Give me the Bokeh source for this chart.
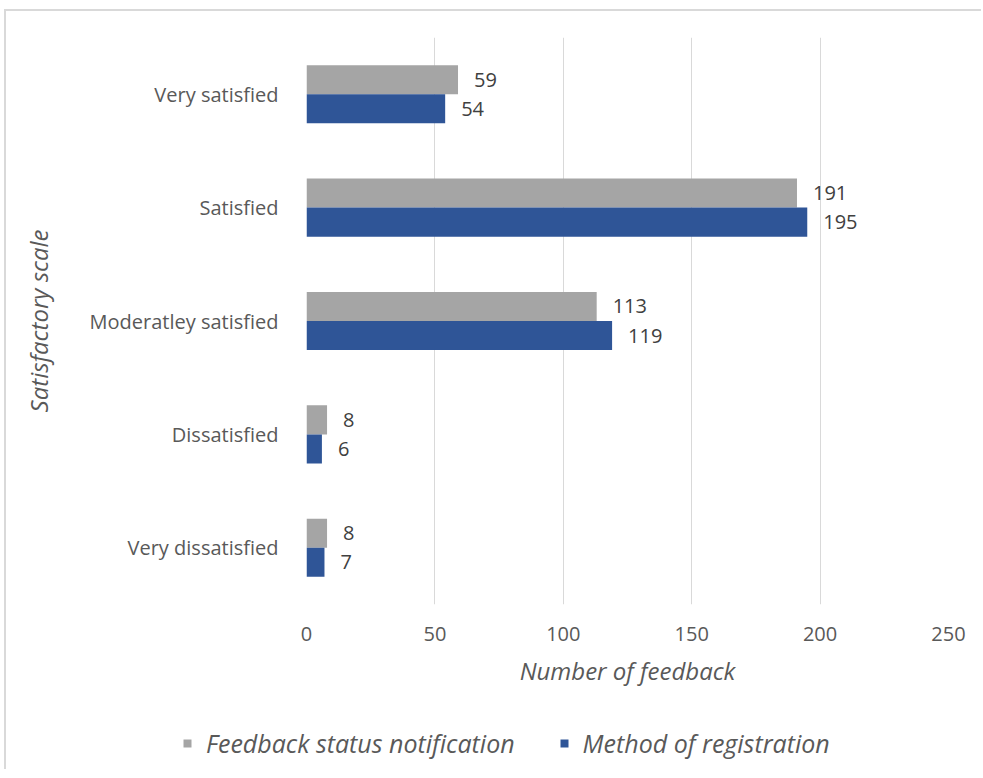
from bokeh.plotting import figure
from bokeh.layouts import column
from bokeh.models import FactorRange, ColumnDataSource, LabelSet, Legend, LegendItem, Range1d
from bokeh.transform import dodge
from bokeh.core.properties import value
from bokeh.embed import file_html
from bokeh.resources import INLINE

categories = ["Very satisfied", "Satisfied", "Moderatley satisfied", "Dissatisfied", "Very dissatisfied"]
feedback_status = [59, 191, 113, 8, 8]
method_registration = [54, 195, 119, 6, 7]
x_ticks = [0, 50, 100, 150, 200, 250]
series_names = ["Feedback status notification", "Method of registration"]

FONT = "Open Sans"
TXT = "#595959"
GRAY = "#a5a5a5"
BLUE = "#2f5597"

src = ColumnDataSource(dict(
    cat=categories,
    fs=feedback_status,
    mr=method_registration,
    fs_lbl=[str(v) for v in feedback_status],
    mr_lbl=[str(v) for v in method_registration],
))

p = figure(
    width=975, height=700,
    y_range=FactorRange(*list(reversed(categories))),
    x_range=Range1d(0, 250),
    output_backend="svg", toolbar_location=None,
    min_border_left=300, min_border_right=33, min_border_top=26, min_border_bottom=107,
)
p.outline_line_color = None
p.frame_align = False

r1 = p.hbar(y=dodge("cat", 0.128, range=p.y_range), right="fs", left=0, height=0.256,
            source=src, fill_color=GRAY, line_color=None)
r2 = p.hbar(y=dodge("cat", -0.128, range=p.y_range), right="mr", left=0, height=0.256,
            source=src, fill_color=BLUE, line_color=None)

l1 = LabelSet(x="fs", y=dodge("cat", 0.128, range=p.y_range), text="fs_lbl", source=src,
              x_offset=16, text_baseline="middle", text_font_size="20px",
              text_color="#404040", text_font=value(FONT))
l2 = LabelSet(x="mr", y=dodge("cat", -0.128, range=p.y_range), text="mr_lbl", source=src,
              x_offset=16, text_baseline="middle", text_font_size="20px",
              text_color="#404040", text_font=value(FONT))
p.add_layout(l1)
p.add_layout(l2)

p.xaxis.ticker = x_ticks
p.xgrid.ticker = x_ticks
p.xgrid.grid_line_color = "#d9d9d9"
p.ygrid.grid_line_color = None

for ax in (p.xaxis[0], p.yaxis[0]):
    ax.axis_line_color = None
    ax.major_tick_line_color = None
    ax.minor_tick_line_color = None
    ax.major_label_text_font = FONT
    ax.major_label_text_font_size = "20px"
    ax.major_label_text_color = TXT
    ax.axis_label_text_font = FONT
    ax.axis_label_text_font_size = "24px"
    ax.axis_label_text_color = TXT
    ax.axis_label_text_font_style = "italic"

p.xaxis.axis_label = "Number of feedback"
p.xaxis.major_label_standoff = 16
p.xaxis.axis_label_standoff = 10
p.yaxis.axis_label = "Satisfactory scale"
p.yaxis.major_label_standoff = 22
p.yaxis.axis_label_standoff = 32

# legend strip below the chart
p2 = figure(
    width=975, height=58,
    y_range=FactorRange(*list(reversed(categories))),
    x_range=Range1d(0, 250),
    x_axis_location=None, y_axis_location=None,
    output_backend="svg", toolbar_location=None,
    min_border_left=0, min_border_right=0, min_border_top=0, min_border_bottom=0,
)
p2.outline_line_color = None
p2.frame_align = False
p2.grid.visible = False
g1 = p2.hbar(y=dodge("cat", 0.128, range=p2.y_range), right="fs", left=0, height=0.256,
             source=src, fill_color=GRAY, line_color=None, visible=False)
g2 = p2.hbar(y=dodge("cat", -0.128, range=p2.y_range), right="mr", left=0, height=0.256,
             source=src, fill_color=BLUE, line_color=None, visible=False)

legend = Legend(items=[LegendItem(label=series_names[0], renderers=[g1]),
                       LegendItem(label=series_names[1], renderers=[g2])],
                orientation="horizontal", location=(176, 9),
                label_text_font=FONT, label_text_font_size="25px",
                label_text_font_style="italic", label_text_color=TXT,
                glyph_width=10, glyph_height=10, label_standoff=14, spacing=44,
                padding=0, margin=0, inactive_fill_alpha=0,
                border_line_color=None, background_fill_alpha=0)
p2.add_layout(legend)

layout = column(p, p2, spacing=0)
layout.styles = {"border-left": "2px solid #d9d9d9", "border-top": "2px solid #d9d9d9",
                 "margin-left": "4px", "margin-top": "9px"}

open("out.html", "w").write(file_html(layout, INLINE))
